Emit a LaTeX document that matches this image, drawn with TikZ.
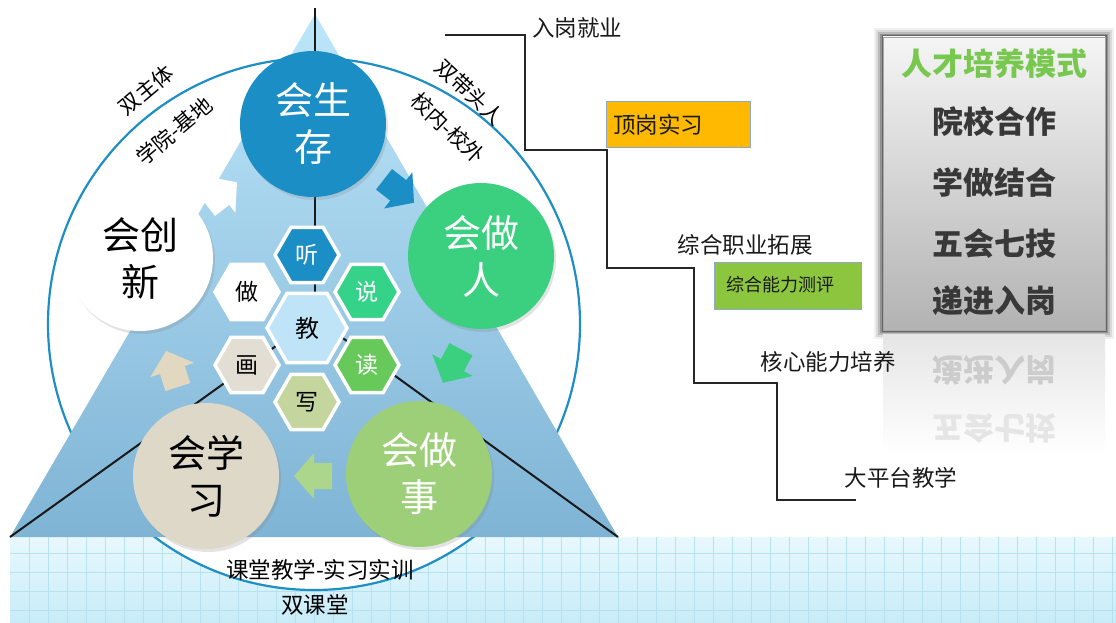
\documentclass[tikz,border=0pt]{standalone}
\usepackage{fontspec}
\setmainfont{Noto Sans CJK SC}
\usetikzlibrary{shapes.geometric,shadows}
\definecolor{bandtop}{HTML}{E8F8FD}
\definecolor{bandbot}{HTML}{C8ECF8}
\definecolor{gridc}{HTML}{B6E1F1}
\definecolor{ringblue}{HTML}{1E8FC4}
\definecolor{tritop}{HTML}{BDE6FA}
\definecolor{tribot}{HTML}{7FB4D5}
\definecolor{cblue}{HTML}{1B8EC6}
\definecolor{cgreen}{HTML}{3AD07F}
\definecolor{clgreen}{HTML}{9CCF78}
\definecolor{cbeige}{HTML}{DDD8C8}
\definecolor{hsay}{HTML}{35D38A}
\definecolor{hread}{HTML}{67C95A}
\definecolor{hwrite}{HTML}{C4D59E}
\definecolor{hdraw}{HTML}{E3DED3}
\definecolor{hteach}{HTML}{BFE4F8}
\definecolor{obox}{HTML}{FFB900}
\definecolor{gbox}{HTML}{8CC63F}
\definecolor{boxedge}{HTML}{8FA8C8}
\definecolor{titlegreen}{HTML}{78C850}
\definecolor{boxtext}{HTML}{383838}
\definecolor{abeige}{HTML}{E2D8C0}
\newcommand{\blockarr}[4]{%
  \fill[#4, shift={(#1,#2)}, rotate=#3]
    (-19,-13) -- (-1,-13) -- (-1,-23) -- (19,0) -- (-1,23) -- (-1,13) -- (-19,13) -- cycle;}
\begin{document}
\begin{tikzpicture}[x=1pt,y=-1pt,
  bigc/.style={circle, inner sep=0, minimum size=146, align=center,
    font=\fontsize{38}{47}\selectfont,
    drop shadow={opacity=0.22, shadow xshift=2pt, shadow yshift=-3pt}},
  hexn/.style={regular polygon, regular polygon sides=6, minimum size=64, inner sep=0,
    draw=white, line width=3.5, font=\fontsize{23}{23}\selectfont,
    drop shadow={opacity=0.18, shadow xshift=1pt, shadow yshift=-1.5pt}},
  steptext/.style={font=\fontsize{22.5}{22.5}\selectfont, text=black!90, inner sep=0},
  arclabel/.style={font=\fontsize{21}{21}\selectfont, inner sep=0},
  boxtxt/.style={font=\bfseries\fontsize{31}{31}\selectfont, text=boxtext, inner sep=0},
  stairline/.style={line width=1.8, black!85},
  ]
\useasboundingbox (0,0) rectangle (1116,623);
% bottom band with grid
\shade[top color=bandtop, bottom color=bandbot] (10,537) rectangle (1116,623);
\foreach \gx in {29,48,...,1116} \draw[gridc, line width=0.7] (\gx,537) -- (\gx,623);
\foreach \gy in {553,572,...,623} \draw[gridc, line width=0.7] (10,\gy) -- (1116,\gy);
\shade[top color=white, bottom color=white, middle color=white, opacity=0.0] (10,537) rectangle (1116,545);
% ring
\node[circle, draw=ringblue, line width=2.2, fill=white, minimum size=532, inner sep=0] (ring) at (314,324) {};
% triangle
\shade[top color=tritop, bottom color=tribot] (315,14) -- (10,537) -- (618,537) -- cycle;
% black lines
\coordinate (apexl) at (315,8);
\coordinate (hub) at (315,318);
\coordinate (lb) at (10,537);
\coordinate (rb) at (618,537);
\draw[line width=2, black!90] (apexl) -- (hub);
\draw[line width=2, black!90] (lb) -- (hub);
\draw[line width=2, black!90] (rb) -- (hub);
% block arrows
\blockarr{399}{191}{-38}{cblue}
\blockarr{452}{366}{-118}{cgreen}
\blockarr{313}{476}{180}{clgreen!85!white}
\blockarr{172}{369}{108}{abeige}
\blockarr{222}{194}{38}{white}
% big circles
\node[bigc, fill=cblue, text=white] (live) at (313,124) {会生\\存};
\node[bigc, fill=cgreen, text=white] (person) at (481,256) {会做\\人};
\node[bigc, fill=clgreen, text=white] (work) at (419,474) {会做\\事};
\node[bigc, fill=cbeige, text=black] (learn) at (206,476) {会学\\习};
\node[bigc, fill=white, text=black] (create) at (140,258) {会创\\新};
% hexagons
\node[hexn, fill=cblue, text=white] (ting) at (307,255) {听};
\node[hexn, fill=hsay, text=white] (shuo) at (367,292) {说};
\node[hexn, fill=hread, text=white] (du) at (367,365) {读};
\node[hexn, fill=hwrite, text=black] (xie) at (307,402) {写};
\node[hexn, fill=hdraw, text=black] (hua) at (247,365) {画};
\node[hexn, fill=white, text=black] (zuo) at (247,292) {做};
\node[hexn, fill=hteach, text=black, minimum size=80, font=\fontsize{24}{24}\selectfont] (jiao) at (307,328) {教};
% ring labels
\node[arclabel, rotate=40] (l1) at (146,90) {双主体};
\node[arclabel, rotate=40] (l2) at (174,131) {学院-基地};
\node[arclabel, rotate=-43] (l3) at (470,92) {双带头人};
\node[arclabel, rotate=-43] (l4) at (448,128) {校内-校外};
\node[font=\fontsize{22.5}{22.5}\selectfont, inner sep=0] (l5) at (320,570) {课堂教学-实习实训};
\node[font=\fontsize{22.5}{22.5}\selectfont, inner sep=0] (l6) at (315,605) {双课堂};
% right panel: shadow frame
\foreach \i/\o in {9/0.06, 7/0.09, 5/0.14, 3/0.22, 1.5/0.3}
  \fill[black, opacity=\o] (883-\i,37-\i) rectangle (1105+\i,330+\i);
\shade[top color=white!96!black, bottom color=black!30] (883,37) rectangle (1105,330);
\draw[black!35, line width=0.6] (883,37) rectangle (1105,330);
% reflection
\shade[top color=black!10, bottom color=white] (883,334) rectangle (1105,455);
\node[boxtxt, text=titlegreen] (title) at (994,64) {人才培养模式};
\node[boxtxt] (r1) at (994,122) {院校合作};
\node[boxtxt] (r2) at (994,183) {学做结合};
\node[boxtxt] (r3) at (994,244) {五会七技};
\node[boxtxt] (r4) at (994,301) {递进入岗};
\node[boxtxt, text=black!20] (m1) at (994,370) {\scalebox{1}[-1]{递进入岗}};
\node[boxtxt, text=black!10] (m2) at (994,428) {\scalebox{1}[-1]{五会七技}};
% staircase
\coordinate (s0) at (445,35);
\coordinate (s1) at (525,150);
\coordinate (s2) at (607,268);
\coordinate (s3) at (694,383);
\coordinate (s4) at (777,500);
\coordinate (s5) at (856,500);
\draw[stairline] (s0) -| (s1) -| (s2) -| (s3) -| (s4) -- (s5);
\node[steptext] (t1) at (577,28) {入岗就业};
\node[draw=boxedge, line width=1, fill=obox, minimum width=144, minimum height=46, inner sep=0] (b1) at (678,125) {};
\node[steptext, anchor=west] (b1t) at (613,125) {顶岗实习};
\node[steptext] (t2) at (745,245) {综合职业拓展};
\node[draw=boxedge, line width=1, fill=gbox, minimum width=147, minimum height=47, inner sep=0] (b2) at (788,286) {};
\node[steptext, anchor=west, font=\fontsize{18}{18}\selectfont] (b2t) at (726,285) {综合能力测评};
\node[steptext] (t3) at (828,362) {核心能力培养};
\node[steptext] (t4) at (901,478) {大平台教学};
\end{tikzpicture}
\end{document}
